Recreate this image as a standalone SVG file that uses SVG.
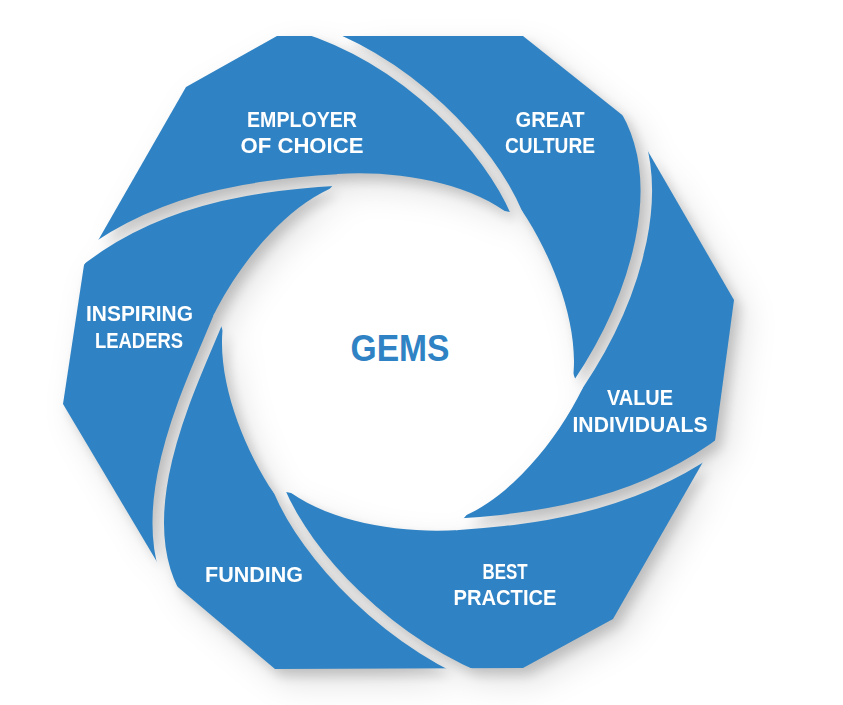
<svg xmlns="http://www.w3.org/2000/svg" width="843" height="705" viewBox="0 0 843 705">
<defs>
<style>
.blade{fill:#2F83C4}
.lbl{font-family:"Liberation Sans",Arial,sans-serif;font-weight:700;font-size:22px;fill:#fff;text-anchor:middle}
.gap{fill:none;stroke:#000;stroke-width:11.5}
</style>
<clipPath id="poly"><polygon points="277,36 523,36 631,122 734,300 715,441 613,619 523,668 275,669 166,577 63,404 84,265 186,87"/></clipPath>
<mask id="cut" maskUnits="userSpaceOnUse" x="0" y="0" width="843" height="705">
<rect width="843" height="705" fill="#fff"/>
<path class="gap" d="M340.4,179.8 L337.4,180 C250,185 150,200 70,268"/>
<path class="gap" d="M518,216.1 L516.8,213.3 C490,150 410,60 300,26"/>
<path class="gap" d="M575.8,388.1 L577.5,385.6 C635,300 675,180 620,100"/>
<path class="gap" d="M455.6,524.4 L458.6,524.2 C546,519 646,502 728,438"/>
<path class="gap" d="M278,488 L279.2,490.7 C306,554 386,644 496,685"/>
<path class="gap" d="M219.6,315.6 L218.5,318.4 C190,388 120,525 185,610"/>
<path fill="#000" d="M337.7,185.55 L337,174 C395,170 470,182 512,216.5 L521.65,210.17 C554.1,258.4 581.2,329.35 572.3,382.97 L582.65,388.17 C557.1,440.4 509.2,499.35 458.3,518.45 L459,530 C401,534 326,522 284,487.5 L274.35,493.83 C241.9,445.6 214.8,374.65 223.7,321.03 L213.35,315.83 C238.9,263.6 286.8,204.65 337.7,185.55 Z"/>
</mask>
<filter id="sh" x="-20%" y="-20%" width="145%" height="145%" color-interpolation-filters="sRGB">
<feGaussianBlur in="SourceAlpha" stdDeviation="6" result="b1"/>
<feOffset in="b1" dx="6" dy="7" result="o1"/>
<feFlood flood-color="#000" flood-opacity="0.17"/>
<feComposite in2="o1" operator="in" result="s1"/>
<feGaussianBlur in="SourceAlpha" stdDeviation="16" result="b2"/>
<feOffset in="b2" dx="12" dy="14" result="o2"/>
<feFlood flood-color="#000" flood-opacity="0.12"/>
<feComposite in2="o2" operator="in" result="s2"/>
<feMerge><feMergeNode in="s2"/><feMergeNode in="s1"/><feMergeNode in="SourceGraphic"/></feMerge>
</filter>
</defs>
<rect width="843" height="705" fill="#fff"/>
<g filter="url(#sh)">
<g mask="url(#cut)">
<g id="employer-of-choice" clip-path="url(#poly)">
<path class="blade" d="M337.4,180 C250,185 150,200 70,268 L-20,280 L-20,-20 L300,-20 L300,26 C410,60 490,150 516.8,213.3 Z"/>
<text class="lbl" x="302" y="127" textLength="110" lengthAdjust="spacingAndGlyphs">EMPLOYER</text>
<text class="lbl" x="302" y="153" textLength="123" lengthAdjust="spacingAndGlyphs">OF CHOICE</text>
</g>
<g id="great-culture" clip-path="url(#poly)">
<path class="blade" d="M516.8,213.3 C490,150 410,60 300,26 L300,-20 L720,-20 L720,60 L620,100 C675,180 635,300 577.5,385.6 Z"/>
<text class="lbl" x="550" y="127" textLength="69" lengthAdjust="spacingAndGlyphs">GREAT</text>
<text class="lbl" x="550" y="153" textLength="90" lengthAdjust="spacingAndGlyphs">CULTURE</text>
</g>
<g id="value-individuals" clip-path="url(#poly)">
<path class="blade" d="M577.5,385.6 C635,300 675,180 620,100 L720,60 L800,200 L800,430 L728,438 C646,502 546,519 458.6,524.2 Z"/>
<text class="lbl" x="640" y="405" textLength="66" lengthAdjust="spacingAndGlyphs">VALUE</text>
<text class="lbl" x="640" y="432" textLength="135" lengthAdjust="spacingAndGlyphs">INDIVIDUALS</text>
</g>
<g id="best-practice" clip-path="url(#poly)">
<path class="blade" d="M458.6,524.2 C546,519 646,502 728,438 L800,430 L800,720 L496,720 L496,685 C386,644 306,554 279.2,490.7 Z"/>
<text class="lbl" x="505" y="579" textLength="45" lengthAdjust="spacingAndGlyphs">BEST</text>
<text class="lbl" x="505" y="605" textLength="103" lengthAdjust="spacingAndGlyphs">PRACTICE</text>
</g>
<g id="funding" clip-path="url(#poly)">
<path class="blade" d="M279.2,490.7 C306,554 386,644 496,685 L496,720 L100,720 L140,640 L185,610 C120,525 190,388 218.5,318.4 Z"/>
<text class="lbl" x="254" y="582" textLength="98" lengthAdjust="spacingAndGlyphs">FUNDING</text>
</g>
<g id="inspiring-leaders" clip-path="url(#poly)">
<path class="blade" d="M218.5,318.4 C190,388 120,525 185,610 L140,640 L-20,640 L-20,280 L70,268 C150,200 250,185 337.4,180 Z"/>
<text class="lbl" x="139.5" y="321" textLength="107" lengthAdjust="spacingAndGlyphs">INSPIRING</text>
<text class="lbl" x="139" y="348" textLength="88" lengthAdjust="spacingAndGlyphs">LEADERS</text>
</g>
</g>
</g>
<g id="gems">
<text x="400" y="361" font-family="Liberation Sans, Arial, sans-serif" font-weight="700" font-size="37" fill="#2F83C4" text-anchor="middle" textLength="99" lengthAdjust="spacingAndGlyphs">GEMS</text>
</g>
</svg>
